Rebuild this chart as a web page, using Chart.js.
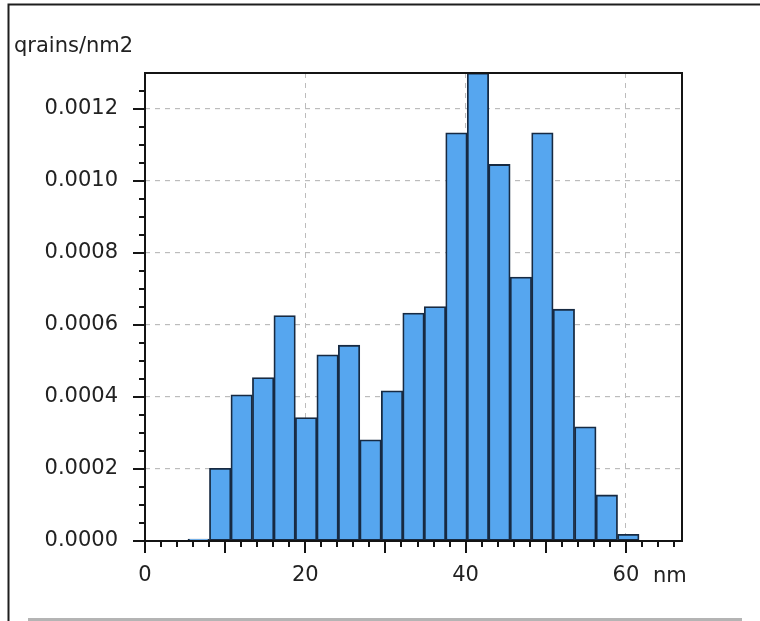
<!DOCTYPE html>
<html>
<head>
<meta charset="utf-8">
<title>Grain size distribution</title>
<script src="https://cdn.jsdelivr.net/npm/chart.js@4.4.1/dist/chart.umd.min.js"></script>
<style>
    html, body { margin: 0; padding: 0; background: #fff; }
    #wrap { position: relative; width: 760px; height: 621px; }
</style>
</head>
<body>
<div id="wrap"><canvas id="grainChart"></canvas></div>
<script>
// histogram bins (nm, bin centres) and grain density per bin
const binCentres = [1.34, 4.02, 6.70, 9.38, 12.06, 14.74, 17.42, 20.10, 22.78, 25.46,
    28.14, 30.82, 33.50, 36.18, 38.86, 41.54, 44.22, 46.90, 49.58, 52.26,
    54.94, 57.62, 60.30, 62.98, 65.66];
const grainDensity = [0, 0, 0.0000056, 0.000202, 0.000406, 0.000454, 0.000626, 0.000343, 0.000517, 0.000544,
    0.000281, 0.000417, 0.000633, 0.000651, 0.001134, 0.0013, 0.001046, 0.000733, 0.001134, 0.000644,
    0.000317, 0.000128, 0.0000186, 0, 0];
const xLabelValues = [0, 20, 40, 60];
const yLabelValues = [0, 0.0002, 0.0004, 0.0006, 0.0008, 0.0010, 0.0012];
const yTitle = 'qrains/nm2';
const xUnit = 'nm';

const FONT = 'DejaVu Sans';
const FONT_SIZE = 21;
const TEXT_COLOR = '#222';
const GRID_COLOR = '#bcbcbc';

// panel frame, plot box and hand-drawn tick marks (major + minor)
const framePlugin = {
    id: 'framePlugin',
    beforeDraw: (chart) => {
        const c = chart.ctx;
        c.save();
        c.strokeStyle = '#1e1e1e';
        c.lineWidth = 2;
        c.beginPath();
        c.moveTo(8.5, 621);
        c.lineTo(8.5, 4.5);
        c.lineTo(760, 4.5);
        c.stroke();
        c.strokeStyle = '#b4b4b4';
        c.lineWidth = 3;
        c.beginPath();
        c.moveTo(28, 619.5);
        c.lineTo(742, 619.5);
        c.stroke();
        c.restore();
    },
    afterDraw: (chart) => {
        const c = chart.ctx;
        const { left, right, top, bottom } = chart.chartArea;
        const xs = chart.scales.x;
        const ys = chart.scales.y;
        c.save();
        c.strokeStyle = '#141414';
        c.lineWidth = 2;
        c.strokeRect(left, top, right - left, bottom - top);

        c.lineWidth = 2;
        c.beginPath();
        for (let i = 0; i <= 33; i++) {
            const px = Math.round(xs.getPixelForValue(i * 2));
            const len = i % 5 === 0 ? 12 : 6;
            c.moveTo(px, bottom);
            c.lineTo(px, bottom + len);
        }
        for (let i = 0; i <= 25; i++) {
            const py = Math.round(ys.getPixelForValue(i * 0.00005));
            const len = i % 4 === 0 ? 12 : 6;
            c.moveTo(left, py);
            c.lineTo(left - len, py);
        }
        c.stroke();

        c.fillStyle = TEXT_COLOR;
        c.font = `${FONT_SIZE}px "${FONT}"`;
        c.textBaseline = 'alphabetic';
        c.textAlign = 'left';
        c.fillText(yTitle, 14, 52);
        c.fillText(xUnit, xs.getPixelForValue(60) + 27, 582);
        c.restore();
    }
};

document.addEventListener('DOMContentLoaded', () => {
    const ctx = document.getElementById('grainChart').getContext('2d');

    new Chart(ctx, {
        type: 'bar',
        data: {
            datasets: [{
                data: binCentres.map((x, i) => ({ x, y: grainDensity[i] })),
                backgroundColor: '#56a6ef',
                borderColor: '#172a42',
                borderWidth: 1.8,
                borderSkipped: false,
                barPercentage: 1,
                categoryPercentage: 1,
            }]
        },
        options: {
            responsive: true, maintainAspectRatio: false, animation: false,
            layout: { padding: { top: 73, right: 78, bottom: 0, left: 0 } },
            plugins: { legend: { display: false }, tooltip: { enabled: false } },
            scales: {
                x: {
                    type: 'linear', min: 0, max: 67, offset: false,
                    afterFit: (s) => { s.height = 80; },
                    afterBuildTicks: (s) => { s.ticks = xLabelValues.map(v => ({ value: v })); },
                    ticks: {
                        autoSkip: false, maxRotation: 0, padding: 22,
                        color: TEXT_COLOR, font: { family: FONT, size: FONT_SIZE },
                        callback: (v) => String(v)
                    },
                    grid: { drawTicks: false, offset: false, color: GRID_COLOR, lineWidth: 1 },
                    border: { display: false, dash: [5, 5] }
                },
                y: {
                    min: 0, max: 0.0013,
                    afterFit: (s) => { s.width = 145; },
                    afterBuildTicks: (s) => { s.ticks = yLabelValues.map(v => ({ value: v })); },
                    ticks: {
                        autoSkip: false, padding: 27,
                        color: TEXT_COLOR, font: { family: FONT, size: FONT_SIZE },
                        callback: (v) => Number(v).toFixed(4)
                    },
                    grid: { drawTicks: false, color: GRID_COLOR, lineWidth: 1.2 },
                    border: { display: false, dash: [5, 5] }
                }
            }
        },
        plugins: [framePlugin]
    });
});
</script>
</body>
</html>
